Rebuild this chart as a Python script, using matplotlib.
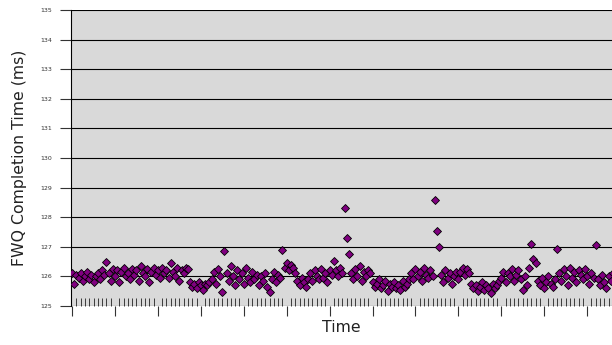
import numpy as np
import matplotlib
matplotlib.use("Agg")
from matplotlib import pyplot as plt
from matplotlib.ticker import MultipleLocator, NullFormatter

# FWQ completion time per sample (ms)
fwq_ms = [
    126.1, 125.75, 126.05, 125.95, 126.1, 125.85, 126.0, 126.15, 125.9, 126.05, 125.8, 126.0, 126.1, 125.9,
    126.2, 126.05, 126.5, 126.1, 125.85, 126.25, 126.0, 126.2, 125.8, 126.15, 126.3, 126.0, 126.1, 125.9,
    126.25, 126.05, 126.2, 125.85, 126.35, 126.1, 126.0, 126.25, 125.8, 126.15, 126.3, 126.05, 126.2, 125.95,
    126.3, 126.1, 126.2, 125.95, 126.45, 126.15, 126.0, 126.3, 125.85, 126.2, 126.1, 126.3, 126.25,
    125.8, 125.65, 125.75, 125.6, 125.8, 125.7, 125.55, 125.75, 125.7, 125.8,
    125.9, 126.15, 125.75, 126.25, 126.0, 125.48, 126.85, 126.1, 125.85, 126.35, 126.0, 125.7,
    126.2, 125.9, 126.1, 125.75, 126.3, 125.95, 125.8, 126.15, 125.9, 126.05, 125.7,
    126.0, 125.85, 126.1, 125.65, 125.47, 125.9, 126.15, 125.8, 126.05, 125.95,
    126.9,
    126.3, 126.45, 126.2, 126.4, 126.3, 126.1,
    125.85, 125.7, 125.95, 125.8, 125.65, 125.9,
    126.1, 125.85, 126.2, 126.0, 125.9, 126.25, 125.95, 126.1, 125.8, 126.2, 126.05,
    126.52,
    126.2, 126.0, 126.3, 126.1,
    128.3, 127.3, 126.75,
    126.1, 125.9, 126.25, 126.0, 126.35, 125.85, 126.15, 126.0, 126.2, 126.1,
    125.8, 125.65, 125.75, 125.9, 125.6, 125.7, 125.85, 125.5, 125.75, 125.65, 125.8, 125.6, 125.7, 125.55,
    125.85, 125.65, 125.75, 125.9,
    126.1, 125.9, 126.25, 126.0, 126.15, 125.85, 126.3, 126.05, 125.95, 126.2, 126.0,
    128.58, 127.53, 126.99,
    126.05, 125.8, 126.2, 125.95, 126.1, 125.75, 126.0, 126.15, 125.9,
    126.15, 126.3, 126.05, 126.25, 126.1,
    125.75, 125.6, 125.7, 125.5, 125.65, 125.8, 125.55, 125.7, 125.6, 125.45, 125.75, 125.6, 125.7, 125.85,
    125.95, 126.15, 125.8, 126.1, 126.0, 126.25, 125.85, 126.05, 126.2,
    125.9, 125.55, 126.0, 125.7, 126.3,
    127.09, 126.6, 126.45,
    125.85, 125.7, 125.95, 125.6, 125.8, 126.0, 125.75, 125.65, 125.9,
    126.93,
    126.1, 125.85, 126.25, 126.0, 125.7, 126.3, 125.95, 126.15, 125.8, 126.2, 126.05, 125.9, 126.25, 126.0,
    125.75, 126.1, 125.95,
    127.06,
    125.9, 125.7, 126.05, 125.8, 125.6, 126.0, 125.85, 126.1,
]
sample = np.arange(len(fwq_ms))

fig = plt.figure(figsize=(6.12, 3.45), dpi=100)
ax = fig.add_axes([71/612, 39/345, 541/612, 296/345])
ax.set_facecolor('#d9d9d9')

ax.plot(sample, fwq_ms, linestyle='none', marker='D', markersize=4.0,
        markerfacecolor='#800080', markeredgecolor='black', markeredgewidth=0.6,
        clip_on=True, zorder=3)

ax.set_ylim(125, 135)
ax.set_xlim(-0.5, 251.6)
ax.yaxis.set_major_locator(MultipleLocator(1))
ax.xaxis.set_major_locator(MultipleLocator(20))
ax.xaxis.set_minor_locator(MultipleLocator(2))
ax.xaxis.set_major_formatter(NullFormatter())

ax.grid(axis='y', color='black', linewidth=0.8, zorder=1)
ax.set_axisbelow(True)

for s in ['top', 'right', 'bottom']:
    ax.spines[s].set_visible(False)
ax.spines['left'].set_color('black')
ax.spines['left'].set_linewidth(0.8)

ax.tick_params(axis='y', direction='out', length=8, width=0.8, color='#333333',
               labelsize=4.5, labelcolor='#333333', pad=5.5)
ax.tick_params(axis='x', which='major', direction='out', length=7.5, width=0.8,
               color='#333333', bottom=True)
ax.tick_params(axis='x', which='minor', direction='in', length=5.5, width=0.6,
               color='#222222', bottom=True)

ax.set_ylabel('FWQ Completion Time (ms)', fontsize=11.3, color='#222222')
ax.yaxis.set_label_coords(-0.081, 0.5)
ax.set_xlabel('Time', fontsize=11.3, color='#222222')
ax.xaxis.set_label_coords(0.5, -0.048)

fig.savefig('out.png', dpi=100)
